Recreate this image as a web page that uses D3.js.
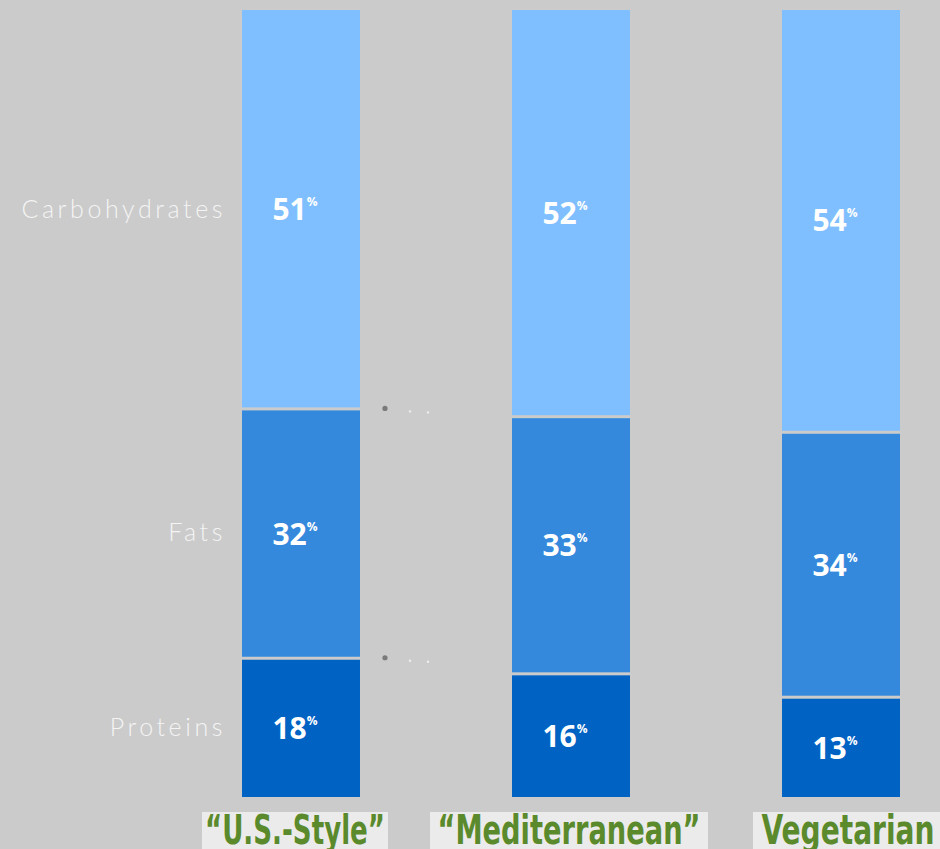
<!DOCTYPE html>
<html>
<head>
<meta charset="utf-8">
<script src="https://cdn.jsdelivr.net/npm/d3@7"></script>
<style>
  html, body { margin: 0; padding: 0; background: #cbcbcb; }
  svg { display: block; }
</style>
</head>
<body>
<svg id="chart" width="940" height="849"></svg>
<script>
// Macronutrient share of calories for three eating patterns
const diets = ["\u201CU.S.-Style\u201D", "\u201CMediterranean\u201D", "Vegetarian"];
const nutrients = ["Proteins", "Fats", "Carbohydrates"];
const proteins = [18, 16, 13];
const fats = [32, 33, 34];
const carbohydrates = [51, 52, 54];
const scaleMax = 101;

const colors = { Proteins: "#0063c4", Fats: "#3589dd", Carbohydrates: "#80bfff" };

const svg = d3.select("#chart");

const rows = diets.map((d, i) => ({
  diet: d,
  Proteins: proteins[i],
  Fats: fats[i],
  Carbohydrates: carbohydrates[i]
}));

const stacked = d3.stack().keys(nutrients)(rows);

const x = d3.scaleBand().domain(diets).range([242, 900]).paddingInner(0.563).paddingOuter(0);
const y = d3.scaleLinear().domain([0, scaleMax]).range([797, 10]);
const gap = 3;

// stacked bars
const layers = svg.append("g").selectAll("g")
  .data(stacked).join("g")
  .attr("fill", s => colors[s.key]);

layers.selectAll("rect")
  .data(s => s.map(p => ({ key: s.key, p })))
  .join("rect")
  .attr("x", d => x(d.p.data.diet))
  .attr("width", x.bandwidth())
  .attr("y", d => y(d.p[1]) + (d.key === "Carbohydrates" ? 0 : gap))
  .attr("height", d => y(d.p[0]) - y(d.p[1]) - (d.key === "Carbohydrates" ? 0 : gap));

// value labels inside each segment
const valueFont = "'Open Sans', 'DejaVu Sans', sans-serif";
stacked.forEach(s => {
  s.forEach(p => {
    const cx = x(p.data.diet) + x.bandwidth() / 2;
    const cy = (y(p[0]) + y(p[1])) / 2 + (s.key === "Carbohydrates" ? 0 : gap / 2);
    const t = svg.append("text")
      .attr("x", cx - 6)
      .attr("y", cy + 11)
      .attr("text-anchor", "middle")
      .attr("fill", "#ffffff")
      .style("font-family", valueFont)
      .style("font-weight", 700)
      .style("font-size", "30px");
    t.append("tspan").text(p.data[s.key]);
    t.append("tspan")
      .attr("dy", -14)
      .style("font-size", "12px")
      .text("%");
  });
});

// row labels on the left, aligned to the first bar's segments
const first = x(diets[0]);
const leftLabels = svg.append("g");
stacked.forEach(s => {
  const p = s[0];
  leftLabels.append("text")
    .attr("x", first - 16)
    .attr("y", (y(p[0]) + y(p[1])) / 2 + 9)
    .attr("text-anchor", "end")
    .attr("fill", "#f4f4f4")
    .style("font-family", "Lato, 'Open Sans', sans-serif")
    .style("font-weight", 300)
    .style("font-size", "25px")
    .style("letter-spacing", "3.6px")
    .text(s.key);
});

// small marks beside the U.S.-Style boundaries
const marks = svg.append("g");
[stacked[0][0][1], stacked[1][0][1]].forEach(v => {
  const by = y(v) + 1;
  const bx = first + x.bandwidth();
  marks.append("circle").attr("cx", bx + 25).attr("cy", by).attr("r", 2.6).attr("fill", "#7a7a7a");
  marks.append("circle").attr("cx", bx + 50).attr("cy", by + 3).attr("r", 1.2).attr("fill", "#eeeeee");
  marks.append("circle").attr("cx", bx + 68).attr("cy", by + 4).attr("r", 1.2).attr("fill", "#eeeeee");
});

// category labels under the bars
const catWidths = { [diets[0]]: 180, [diets[1]]: 263, [diets[2]]: 173 };
const boxW = { [diets[0]]: 186, [diets[1]]: 278, [diets[2]]: 190 };
const shift = [-6, -2, 7];
const cats = svg.append("g");
diets.forEach((d, i) => {
  const cx = x(d) + x.bandwidth() / 2 + shift[i];
  cats.append("rect")
    .attr("x", cx - boxW[d] / 2)
    .attr("y", 812)
    .attr("width", boxW[d])
    .attr("height", 40)
    .attr("fill", "#ebebeb");
  cats.append("text")
    .attr("x", cx)
    .attr("y", 844)
    .attr("text-anchor", "middle")
    .attr("textLength", catWidths[d])
    .attr("lengthAdjust", "spacingAndGlyphs")
    .attr("fill", "#5a8a2c")
    .style("font-family", "'DejaVu Sans Condensed', 'DejaVu Sans', sans-serif")
    .style("font-stretch", "condensed")
    .style("font-weight", 700)
    .style("font-size", "40px")
    .text(d);
});
</script>
</body>
</html>
